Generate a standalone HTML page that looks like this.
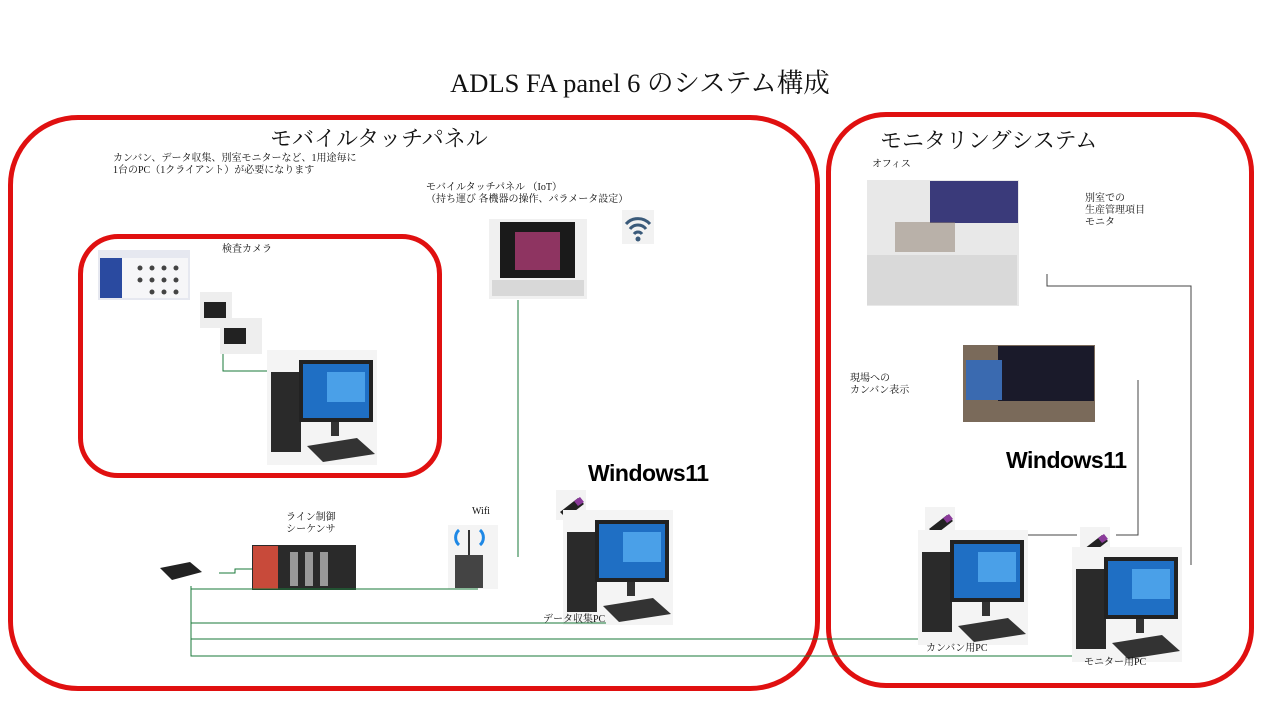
<!DOCTYPE html>
<html><head><meta charset="utf-8"><style>
body{margin:0;width:1280px;height:720px;background:#fff;position:relative;overflow:hidden;font-family:"Liberation Serif","Noto Serif CJK SC","Noto Sans CJK JP",serif;color:#111}
.a{position:absolute}
.t{position:absolute;font-size:10px;line-height:12px;white-space:nowrap;z-index:3}
.box{position:absolute;border:5px solid #e01010;box-sizing:border-box}
.win{position:absolute;font-family:"Liberation Sans","DejaVu Sans",sans-serif;font-weight:bold;font-size:23px;color:#000;z-index:3;letter-spacing:-0.5px}
svg{z-index:1}
</style></head><body>
<div class="a" style="left:0;top:61px;width:1280px;text-align:center;font-size:26.5px;z-index:3">ADLS FA panel 6 のシステム構成</div>
<div class="box" style="left:8px;top:115px;width:812px;height:576px;border-radius:70px"></div>
<div class="box" style="left:826px;top:112px;width:428px;height:576px;border-radius:60px"></div>
<div class="box" style="left:78px;top:234px;width:364px;height:244px;border-radius:40px"></div>
<div class="a" style="left:270px;top:122px;font-size:22px;z-index:3">モバイルタッチパネル</div>
<div class="a" style="left:880px;top:124px;font-size:22px;z-index:3">モニタリングシステム</div>
<div class="t" style="left:113px;top:153px">カンバン、データ収集、別室モニターなど、1用途毎に<br>1台のPC（1クライアント）が必要になります</div>
<div class="t" style="left:426px;top:182px">モバイルタッチパネル （IoT）<br>（持ち運び 各機器の操作、パラメータ設定）</div>
<div class="t" style="left:222px;top:244px">検査カメラ</div>
<div class="t" style="left:286px;top:512px;text-align:center">ライン制御<br>シーケンサ</div>
<div class="t" style="left:472px;top:506px">Wifi</div>
<div class="t" style="left:543px;top:614px">データ収集PC</div>
<div class="t" style="left:872px;top:159px">オフィス</div>
<div class="t" style="left:1085px;top:193px">別室での<br>生産管理項目<br>モニタ</div>
<div class="t" style="left:850px;top:373px">現場への<br>カンバン表示</div>
<div class="t" style="left:926px;top:643px">カンバン用PC</div>
<div class="t" style="left:1084px;top:657px">モニター用PC</div>
<div class="win" style="left:588px;top:460px">Windows11</div>
<div class="win" style="left:1006px;top:447px">Windows11</div>

<svg class="a" style="left:0;top:0" width="1280" height="720">
<defs>
<g id="pc">
<rect x="0" y="0" width="110" height="115" fill="#f4f4f4"/>
<rect x="4" y="22" width="30" height="80" fill="#2a2a2a"/>
<rect x="32" y="10" width="74" height="62" fill="#222"/>
<rect x="36" y="14" width="66" height="54" fill="#1f6fc4"/>
<rect x="60" y="22" width="38" height="30" fill="#4aa0e8"/>
<rect x="64" y="72" width="8" height="14" fill="#333"/>
<polygon points="40,96 90,88 108,104 56,112" fill="#333"/>
</g>
<g id="usb"><rect x="0" y="0" width="30" height="30" fill="#f3f3f3"/><polygon points="4,22 22,8 28,14 10,28" fill="#222"/><polygon points="18,11 24,7 28,12 22,16" fill="#8a3a9a"/></g>
</defs>
<rect x="98" y="250" width="92" height="50" fill="#e6e8f0"/>
<rect x="100" y="258" width="22" height="40" fill="#2a4aa0"/>
<rect x="122" y="258" width="66" height="40" fill="#f6f6f8"/>
<g fill="#444"><circle cx="140" cy="268" r="2.5"/><circle cx="152" cy="268" r="2.5"/><circle cx="164" cy="268" r="2.5"/><circle cx="176" cy="268" r="2.5"/><circle cx="140" cy="280" r="2.5"/><circle cx="152" cy="280" r="2.5"/><circle cx="164" cy="280" r="2.5"/><circle cx="176" cy="280" r="2.5"/><circle cx="152" cy="292" r="2.5"/><circle cx="164" cy="292" r="2.5"/><circle cx="176" cy="292" r="2.5"/></g>
<rect x="200" y="292" width="32" height="36" fill="#eee"/><rect x="204" y="302" width="22" height="16" fill="#222"/>
<rect x="220" y="318" width="42" height="36" fill="#eee"/><rect x="224" y="328" width="22" height="16" fill="#222"/>
<polyline points="223,354 223,371 268,371" fill="none" stroke="#1a7a3a" stroke-width="1"/>
<use href="#pc" x="267" y="350"/>
<rect x="489" y="219" width="98" height="80" fill="#f0f0f0"/>
<rect x="500" y="222" width="75" height="56" fill="#1a1a1a"/>
<rect x="515" y="232" width="45" height="38" fill="#c04080" opacity=".7"/>
<rect x="492" y="280" width="92" height="16" fill="#d8d8d8"/>
<rect x="622" y="210" width="32" height="34" fill="#f2f2f2"/>
<path d="M626 224 A16 16 0 0 1 650 224 M630 229 A10 10 0 0 1 646 229 M634 234 A5 5 0 0 1 642 234" stroke="#3a5a7a" stroke-width="3" fill="none"/>
<circle cx="638" cy="239" r="2.5" fill="#3a5a7a"/>
<polyline points="518,300 518,557" stroke="#1a7a3a" fill="none"/>
<rect x="448" y="525" width="50" height="64" fill="#f4f4f4"/>
<rect x="455" y="555" width="28" height="33" fill="#444"/>
<path d="M459 545 A10 10 0 0 1 459 530 M480 545 A10 10 0 0 0 480 530" stroke="#1e88e5" stroke-width="3" fill="none"/>
<line x1="469" y1="530" x2="469" y2="555" stroke="#333" stroke-width="2"/>
<polygon points="160,568 190,562 202,572 172,580" fill="#222"/>
<rect x="252" y="545" width="104" height="45" fill="#2a2a2a"/>
<rect x="253" y="546" width="25" height="43" fill="#c84a3a"/>
<rect x="290" y="552" width="8" height="34" fill="#999"/><rect x="305" y="552" width="8" height="34" fill="#999"/><rect x="320" y="552" width="8" height="34" fill="#999"/>
<polyline points="219,573 235,573 235,569 252,569" stroke="#1a7a3a" fill="none"/>
<use href="#usb" x="556" y="490"/>
<use href="#pc" x="563" y="510"/>
<g stroke="#1a7a3a" fill="none">
<polyline points="191,586 191,656 1148,656"/>
<line x1="191" y1="589" x2="478" y2="589"/>
<line x1="191" y1="623" x2="606" y2="623"/>
<line x1="191" y1="639" x2="992" y2="639"/>
</g>
<rect x="867" y="180" width="152" height="126" fill="#e8e8e8"/>
<rect x="930" y="181" width="88" height="42" fill="#3a3a7a"/>
<rect x="867" y="255" width="150" height="50" fill="#d9d9d9"/>
<rect x="895" y="222" width="60" height="30" fill="#8a7a6a" opacity=".5"/>
<rect x="963" y="345" width="132" height="77" fill="#7a6a5a"/>
<rect x="998" y="346" width="96" height="55" fill="#1a1a2a"/>
<rect x="966" y="360" width="36" height="40" fill="#3a6ab0"/>
<g stroke="#444" fill="none">
<polyline points="1047,274 1047,286 1191,286 1191,565"/>
<polyline points="1138,380 1138,535 1116,535"/>
<line x1="992" y1="535" x2="1077" y2="535"/>
</g>
<use href="#usb" x="925" y="507"/>
<use href="#pc" x="918" y="530"/>
<use href="#usb" x="1080" y="527"/>
<use href="#pc" x="1072" y="547"/>
</svg>
</body></html>
